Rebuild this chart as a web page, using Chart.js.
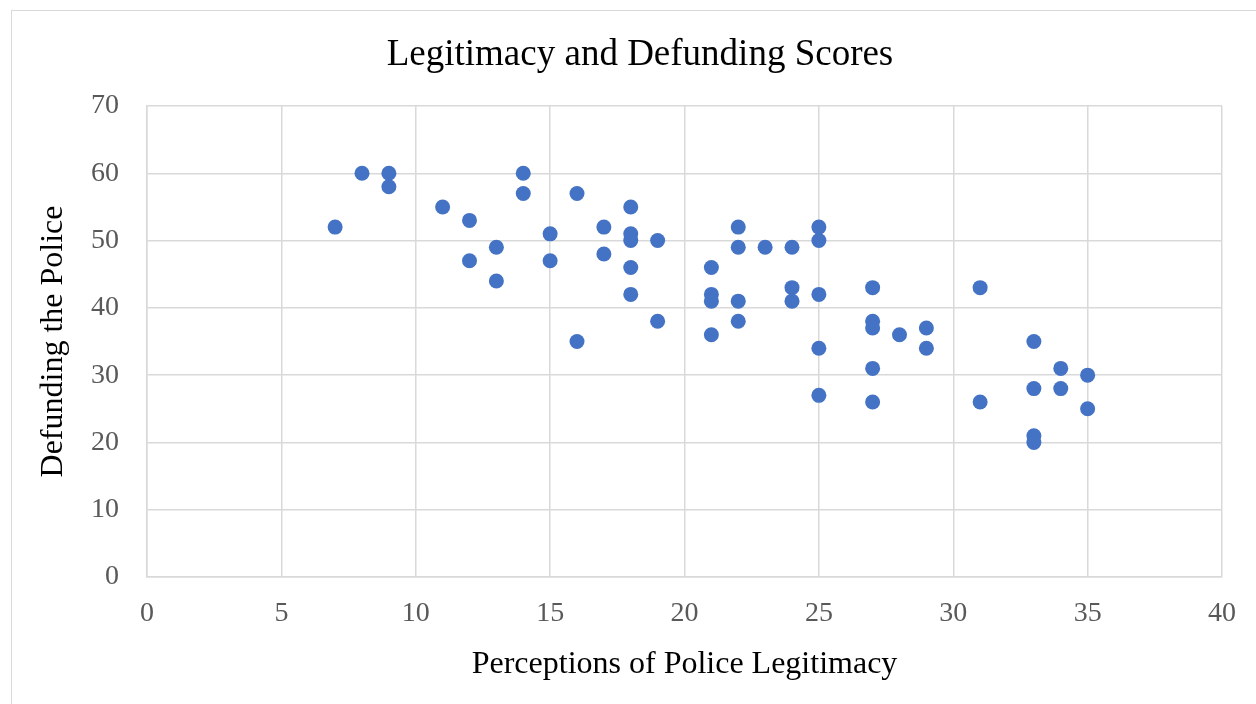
<!DOCTYPE html>
<html>
<head>
<meta charset="utf-8">
<script src="https://cdn.jsdelivr.net/npm/chart.js@4/dist/chart.umd.min.js"></script>
<style>
  html, body { margin: 0; padding: 0; background: #ffffff; overflow: hidden; }
  #wrap { position: absolute; left: 0; top: 0; width: 1256px; height: 704px; }
  #frame { position: absolute; left: 11px; top: 10px; width: 1400px; height: 800px; border: 1px solid #d9d9d9; pointer-events: none; }
</style>
</head>
<body>
<div id="wrap"><canvas id="c" width="1256" height="704"></canvas></div>
<div id="frame"></div>
<script>
const chartTitle = "Legitimacy and Defunding Scores";
const xAxisTitle = "Perceptions of Police Legitimacy";
const yAxisTitle = "Defunding the Police";

const legitimacy = [7, 8, 9, 9, 11, 12, 12, 13, 13, 14, 14, 15, 15, 16, 16, 17, 17, 18, 18, 18, 18, 18, 19, 19,
  21, 21, 21, 21, 22, 22, 22, 22, 23, 24, 24, 24, 25, 25, 25, 25, 25, 27, 27, 27, 27, 27, 28, 29, 29,
  31, 31, 33, 33, 33, 33, 34, 34, 35, 35];
const defunding = [52, 60, 60, 58, 55, 53, 47, 49, 44, 60, 57, 51, 47, 57, 35, 52, 48, 55, 51, 50, 46, 42, 50, 38,
  46, 42, 41, 36, 52, 49, 41, 38, 49, 49, 43, 41, 52, 50, 42, 34, 27, 43, 38, 37, 31, 26, 36, 37, 34,
  43, 26, 35, 28, 21, 20, 31, 28, 30, 25];

const xMin = 0, xMax = 40, xStep = 5;
const yMin = 0, yMax = 70, yStep = 10;

const points = legitimacy.map((x, i) => ({ x: x, y: defunding[i] }));

const serif = "'Liberation Serif', 'Times New Roman', serif";
const gridColor = '#d9d9d9';

new Chart(document.getElementById('c'), {
  type: 'scatter',
  data: {
    datasets: [{
      data: points,
      backgroundColor: '#4472C4',
      borderColor: '#4472C4',
      borderWidth: 0,
      pointRadius: 7.5,
      pointHoverRadius: 7.5,
      xAxisID: 'x',
      yAxisID: 'y'
    }]
  },
  options: {
    responsive: false,
    animation: false,
    events: [],
    layout: { padding: { left: 24, right: 0, top: 0, bottom: 0 } },
    plugins: {
      legend: { display: false },
      tooltip: { enabled: false },
      title: {
        display: true,
        text: chartTitle,
        color: '#000000',
        font: { family: serif, size: 37, weight: 'normal', lineHeight: 1.2 },
        padding: { top: 33, bottom: 28.6 }
      }
    },
    scales: {
      x: {
        type: 'linear',
        min: xMin, max: xMax,
        afterFit: (s) => { s.height = 127; },
        ticks: {
          stepSize: xStep,
          color: '#595959',
          padding: 20,
          font: { family: serif, size: 28 }
        },
        grid: { color: gridColor, lineWidth: 1.5, drawTicks: false },
        border: { color: gridColor, width: 1.5 },
        title: {
          display: true,
          text: xAxisTitle,
          color: '#000000',
          font: { family: serif, size: 32, weight: 'normal', lineHeight: 1.2 },
          padding: { top: 0, bottom: 20 }
        }
      },
      y: {
        type: 'linear',
        min: yMin, max: yMax,
        afterFit: (s) => { s.width = 123; },
        ticks: {
          stepSize: yStep,
          color: '#595959',
          padding: 28,
          font: { family: serif, size: 28 }
        },
        grid: { color: gridColor, lineWidth: 1.5, drawTicks: false },
        border: { color: gridColor, width: 1.5 },
        title: {
          display: true,
          text: yAxisTitle,
          color: '#000000',
          font: { family: serif, size: 32, weight: 'normal', lineHeight: 1.2 },
          padding: { top: 10, bottom: 0 }
        }
      },
      yRight: {
        type: 'linear',
        position: 'right',
        min: yMin, max: yMax,
        afterFit: (s) => { s.width = 31; },
        ticks: { display: false },
        grid: { display: false, drawTicks: false },
        border: { display: false },
        title: { display: false }
      }
    }
  }
});
</script>
</body>
</html>
